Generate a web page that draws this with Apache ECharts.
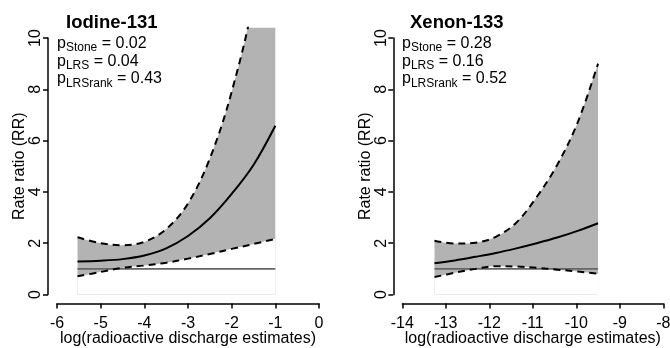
<!DOCTYPE html>
<html>
<head>
<meta charset="utf-8">
<script src="https://cdn.jsdelivr.net/npm/echarts@6/dist/echarts.min.js"></script>
<style>
  html, body { margin: 0; padding: 0; background: #fff; }
  #chart { width: 670px; height: 348px; }
</style>
</head>
<body>
<div id="chart"></div>
<script>
// Iodine-131 panel
const iodineX = [-5.53, -5.0, -4.5, -4.0, -3.5, -3.0, -2.5, -2.0, -1.5, -1.0];
const iodineFit = [1.29, 1.32, 1.38, 1.52, 1.80, 2.28, 2.97, 3.92, 5.05, 6.58];
const iodineUpper = [2.23, 2.00, 1.92, 2.05, 2.55, 3.55, 5.30, 7.90, 11.6, 19.0];
const iodineLower = [0.71, 0.88, 1.04, 1.13, 1.24, 1.40, 1.58, 1.78, 1.97, 2.17];
const iodinePvalues = ['0.02', '0.04', '0.43'];

// Xenon-133 panel
const xenonX = [-13.26, -12.79, -12.32, -11.85, -11.38, -10.91, -10.44, -9.97, -9.5];
const xenonFit = [1.22, 1.33, 1.47, 1.62, 1.80, 2.00, 2.22, 2.48, 2.78];
const xenonUpper = [2.10, 1.99, 2.02, 2.25, 2.80, 3.80, 5.05, 6.70, 9.00];
const xenonLower = [0.68, 0.85, 1.00, 1.10, 1.09, 1.04, 0.97, 0.90, 0.81];
const xenonPvalues = ['0.28', '0.16', '0.52'];

const iodineXRange = [-6, 0];
const xenonXRange = [-14, -8];
const rrRange = [0, 10];
const refRR = 1;

const FONT = 'Liberation Sans';
const BAND = '#b3b3b3';

function pairs(xs, ys) {
  return xs.map((x, i) => [x, ys[i]]);
}

function pText(vals) {
  return [
    '{p|p}{s|Stone}{v| = ' + vals[0] + '}',
    '{p|p}{s|LRS}{v| = ' + vals[1] + '}',
    '{p|p}{s|LRSrank}{v| = ' + vals[2] + '}'
  ].join('\n');
}

const pRich = {
  p: { fontSize: 16, fontFamily: FONT, fontWeight: 'normal', color: '#000', lineHeight: 17.7 },
  v: { fontSize: 16, fontFamily: FONT, fontWeight: 'normal', color: '#000', lineHeight: 17.7 },
  s: { fontSize: 12, fontFamily: FONT, fontWeight: 'normal', color: '#000', height: 8.5, verticalAlign: 'bottom' }
};

function axisPair(range, gridIndex) {
  const axisStyle = { color: '#000', width: 1.5 };
  return {
    x: {
      type: 'value', gridIndex: gridIndex, min: range[0], max: range[1], interval: 1,
      position: 'bottom', offset: 9, z: 10,
      axisLine: { show: true, onZero: false, lineStyle: axisStyle },
      axisTick: { show: true, length: 5, lineStyle: axisStyle },
      axisLabel: { fontSize: 16, fontFamily: FONT, color: '#000', margin: 12 },
      splitLine: { show: false },
      name: 'log(radioactive discharge estimates)', nameLocation: 'middle', nameGap: 27,
      nameMoveOverlap: false,
      nameTextStyle: { fontSize: 16, fontFamily: FONT, color: '#000' }
    },
    y: {
      type: 'value', gridIndex: gridIndex, min: rrRange[0], max: rrRange[1], interval: 2,
      position: 'left', offset: 9, z: 10,
      axisLine: { show: true, onZero: false, lineStyle: axisStyle },
      axisTick: { show: true, length: 5, lineStyle: axisStyle },
      axisLabel: { fontSize: 16, fontFamily: FONT, color: '#000', rotate: 90, margin: 4 },
      splitLine: { show: false },
      name: 'Rate ratio (RR)', nameLocation: 'middle', nameGap: 20,
      nameMoveOverlap: false,
      nameTextStyle: { fontSize: 16, fontFamily: FONT, color: '#000' }
    }
  };
}

// hidden axes of the plotting region (R extends the y range by 4%)
function dataAxes(range, gridIndex) {
  return {
    x: { type: 'value', gridIndex: gridIndex, min: range[0], max: range[1], show: false },
    y: { type: 'value', gridIndex: gridIndex, min: -0.4, max: 10.4, show: false }
  };
}

function panelSeries(name, axisIndex, xs, fit, upper, lower) {
  const common = { type: 'line', xAxisIndex: axisIndex, yAxisIndex: axisIndex, symbol: 'none', smooth: 0.35, silent: true };
  const dashed = { color: '#000', width: 2, type: [7, 5] };
  return [
    // grey band: fill under the upper limit, then blank out under the lower limit
    Object.assign({}, common, { name: name + ' band', data: pairs(xs, upper), lineStyle: { width: 0, opacity: 0 }, areaStyle: { color: BAND, opacity: 1, origin: 0 }, z: 1 }),
    Object.assign({}, common, { name: name + ' cut', data: pairs(xs, lower), lineStyle: { width: 0, opacity: 0 }, areaStyle: { color: '#fff', opacity: 1, origin: 0 }, z: 2 }),
    Object.assign({}, common, { name: name + ' ref', smooth: false, data: [[xs[0], refRR], [xs[xs.length - 1], refRR]], lineStyle: { color: '#666', width: 1.6 }, z: 3 }),
    Object.assign({}, common, { name: name + ' lower', data: pairs(xs, lower), lineStyle: dashed, z: 4 }),
    Object.assign({}, common, { name: name + ' upper', data: pairs(xs, upper), lineStyle: dashed, z: 4 }),
    Object.assign({}, common, { name: name + ' fit', data: pairs(xs, fit), lineStyle: { color: '#000', width: 2 }, z: 4 })
  ];
}

const leftAxes = axisPair(iodineXRange, 0);
const leftData = dataAxes(iodineXRange, 1);
const rightAxes = axisPair(xenonXRange, 2);
const rightData = dataAxes(xenonXRange, 3);

const chart = echarts.init(document.getElementById('chart'), null, { renderer: 'canvas' });

const gridBase = { outerBoundsMode: 'none', containLabel: false };

chart.setOption({
  animation: false,
  backgroundColor: '#fff',
  title: [
    { text: 'Iodine-131', left: 66, top: 13, padding: 0,
      textStyle: { fontSize: 18.5, fontWeight: 'bold', fontFamily: FONT, color: '#000' } },
    { text: pText(iodinePvalues), left: 57, top: 34.6, padding: 0, textStyle: { rich: pRich } },
    { text: 'Xenon-133', left: 410, top: 13, padding: 0,
      textStyle: { fontSize: 18.5, fontWeight: 'bold', fontFamily: FONT, color: '#000' } },
    { text: pText(xenonPvalues), left: 402, top: 34.6, padding: 0, textStyle: { rich: pRich } }
  ],
  grid: [
    Object.assign({ left: 57, right: 351, top: 38, bottom: 53.5 }, gridBase),
    Object.assign({ left: 57, right: 351, top: 27.7, bottom: 43.2 }, gridBase),
    Object.assign({ left: 402.3, right: 6.7, top: 38, bottom: 53.5 }, gridBase),
    Object.assign({ left: 402.3, right: 6.7, top: 27.7, bottom: 43.2 }, gridBase)
  ],
  xAxis: [leftAxes.x, leftData.x, rightAxes.x, rightData.x],
  yAxis: [leftAxes.y, leftData.y, rightAxes.y, rightData.y],
  series: [].concat(
    panelSeries('iodine', 1, iodineX, iodineFit, iodineUpper, iodineLower),
    panelSeries('xenon', 3, xenonX, xenonFit, xenonUpper, xenonLower)
  )
});
</script>
</body>
</html>
